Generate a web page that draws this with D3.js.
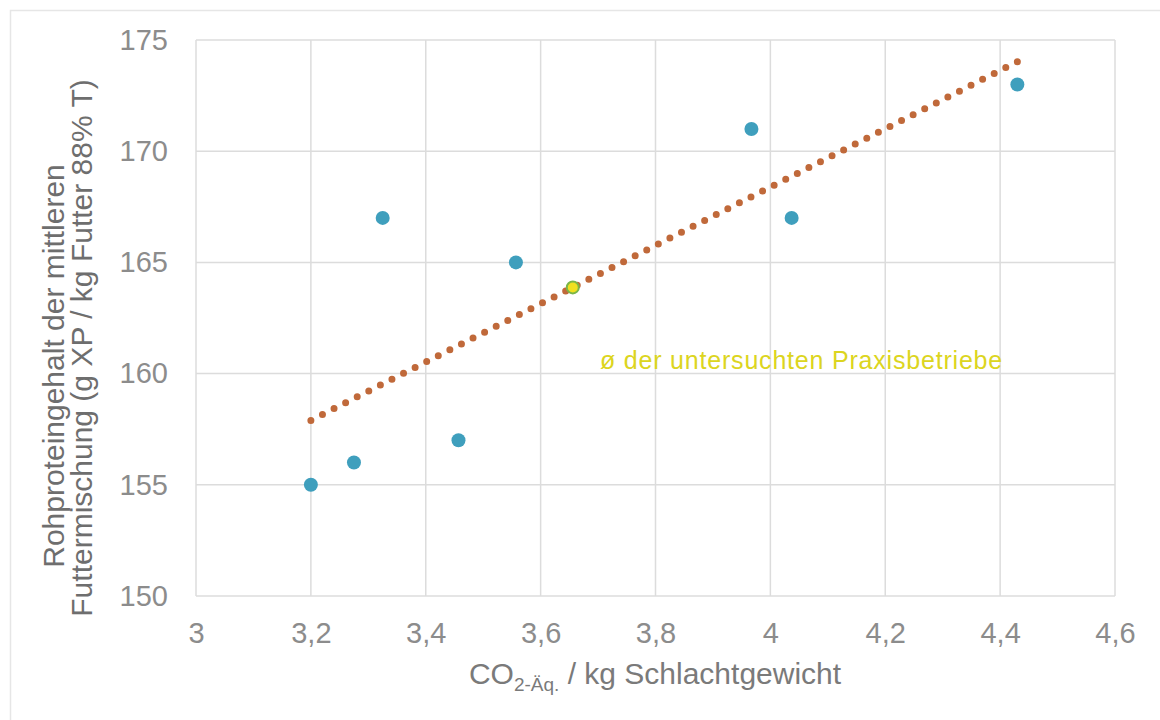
<!DOCTYPE html>
<html>
<head>
<meta charset="utf-8">
<script src="https://cdn.jsdelivr.net/npm/d3@7"></script>
<style>
  html, body { margin: 0; padding: 0; background: #fff; }
  svg { display: block; font-family: "Liberation Sans", Arial, sans-serif; }
</style>
</head>
<body>
<svg id="chart" width="1160" height="720"></svg>
<script>
// CO2 equivalents per kg carcass weight (x) and crude protein of the feed mix (y)
const co2Values = [3.2, 3.275, 3.325, 3.457, 3.557, 3.967, 4.037, 4.43];
const proteinValues = [155, 156, 167, 157, 165, 171, 167, 173];
const xTicks = [3, 3.2, 3.4, 3.6, 3.8, 4, 4.2, 4.4, 4.6];
const yTicks = [150, 155, 160, 165, 170, 175];
const meanLabel = "ø der untersuchten Praxisbetriebe";
const yTitleLines = ["Rohproteingehalt der mittleren", "Futtermischung (g XP / kg Futter 88% T)"];

const points = co2Values.map((x, i) => ({ x, y: proteinValues[i] }));
const meanX = d3.mean(co2Values);
const meanY = d3.mean(proteinValues);

// Least-squares trend line over the farm points
const sxy = d3.sum(points, p => (p.x - meanX) * (p.y - meanY));
const sxx = d3.sum(points, p => (p.x - meanX) ** 2);
const slope = sxy / sxx;
const intercept = meanY - slope * meanX;
const xMin = d3.min(co2Values), xMax = d3.max(co2Values);
const trend = [xMin, xMax].map(x => ({ x, y: intercept + slope * x }));

const svg = d3.select("#chart");
const plot = { left: 196, right: 1115, top: 40, bottom: 596 };

const x = d3.scaleLinear().domain([3, 4.6]).range([plot.left, plot.right]);
const y = d3.scaleLinear().domain([150, 175]).range([plot.bottom, plot.top]);
const fmt = d => d3.format("")(d).replace(".", ",");

// faint outer frame
svg.append("rect")
  .attr("x", 10.5).attr("y", 10.5).attr("width", 1160).attr("height", 720)
  .attr("fill", "none").attr("stroke", "#e6e6e6").attr("stroke-width", 1.5);

// gridlines
svg.append("g").selectAll("line").data(xTicks).join("line")
  .attr("x1", d => x(d)).attr("x2", d => x(d))
  .attr("y1", plot.top).attr("y2", plot.bottom)
  .attr("stroke", "#dcdcdc").attr("stroke-width", 1.5);
svg.append("g").selectAll("line").data(yTicks).join("line")
  .attr("x1", plot.left).attr("x2", plot.right)
  .attr("y1", d => y(d)).attr("y2", d => y(d))
  .attr("stroke", "#dcdcdc").attr("stroke-width", 1.5);

// axes (labels only)
const xAxis = svg.append("g")
  .attr("transform", `translate(0,${plot.bottom})`)
  .call(d3.axisBottom(x).tickValues(xTicks).tickFormat(fmt).tickSize(0).tickPadding(26));
const yAxis = svg.append("g")
  .attr("transform", `translate(${plot.left},0)`)
  .call(d3.axisLeft(y).tickValues(yTicks).tickFormat(fmt).tickSize(0).tickPadding(28));
[xAxis, yAxis].forEach(g => {
  g.select(".domain").remove();
  g.selectAll("text")
    .attr("font-family", "'Liberation Sans', Arial, sans-serif")
    .attr("font-size", 29).attr("fill", "#8c8c8c");
});

// trend line, dotted; spacing tuned so a dot sits on both ends
const trendPath = svg.append("path")
  .datum(trend)
  .attr("d", d3.line().x(d => x(d.x)).y(d => y(d.y)))
  .attr("fill", "none").attr("stroke", "#c0693a")
  .attr("stroke-width", 7).attr("stroke-linecap", "round");
const len = trendPath.node().getTotalLength();
const gap = len / Math.round(len / 13);
trendPath.attr("stroke-dasharray", `0 ${gap}`);

// farm points
svg.append("g").selectAll("circle").data(points).join("circle")
  .attr("cx", d => x(d.x)).attr("cy", d => y(d.y)).attr("r", 7)
  .attr("fill", "#3f9fbd");

// mean point
svg.append("circle")
  .attr("cx", x(meanX)).attr("cy", y(meanY)).attr("r", 6)
  .attr("fill", "#f0e020").attr("stroke", "#7ab648").attr("stroke-width", 2);

svg.append("text")
  .attr("x", 600).attr("y", 369)
  .attr("font-size", 25).attr("letter-spacing", 0.8).attr("fill", "#dcd520")
  .text(meanLabel);

// axis titles
const xt = svg.append("text")
  .attr("x", 655).attr("y", 684).attr("text-anchor", "middle")
  .attr("font-size", 30).attr("fill", "#7a7a7a");
xt.append("tspan").text("CO");
xt.append("tspan").attr("font-size", 19).attr("dy", 7).text("2-Äq.");
xt.append("tspan").attr("dy", -7).text(" / kg Schlachtgewicht");

const yt = svg.append("text")
  .attr("transform", "rotate(-90)")
  .attr("text-anchor", "middle")
  .attr("font-size", 30).attr("fill", "#6e6e6e");
const yTitlePos = [{ c: 366, b: 64 }, { c: 348, b: 92 }];
yTitleLines.forEach((t, i) => {
  yt.append("tspan").attr("x", -yTitlePos[i].c).attr("y", yTitlePos[i].b).text(t);
});
</script>
</body>
</html>
